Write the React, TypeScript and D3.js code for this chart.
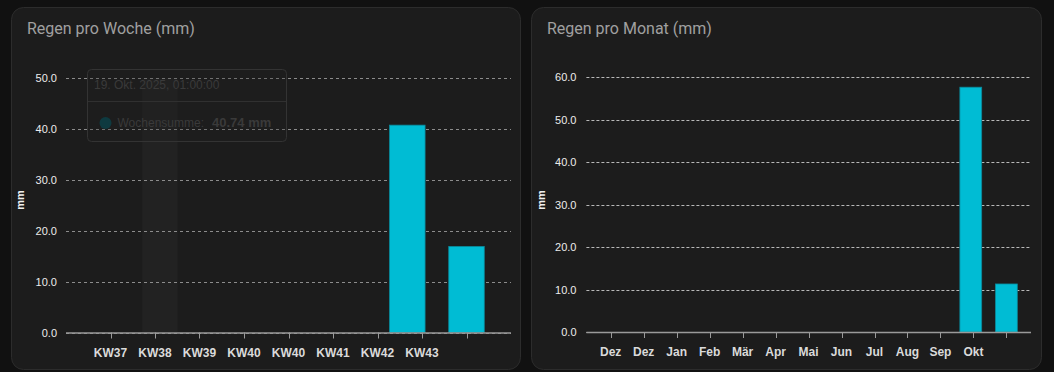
import { useEffect, useRef } from "react"
import * as d3 from "d3";

// weekly chart data
const weekLabels = ["KW37", "KW38", "KW39", "KW40", "KW40", "KW41", "KW42", "KW43", ""];
const weekBarPos = [6.67, 8];
const weekValues = [40.74, 16.9];
const weekTicksY = [0, 10, 20, 30, 40, 50];

// monthly chart data
const monthLabels = ["Dez", "Dez", "Jan", "Feb", "Mär", "Apr", "Mai", "Jun", "Jul", "Aug", "Sep", "Okt", ""];
const monthBarPos = [10.92, 12];
const monthValues = [57.6, 11.3];
const monthTicksY = [0, 10, 20, 30, 40, 50, 60];

const BAR = "#00bcd4";

function drawCard(svg, opts) {
  const {
    cardX, cardW, title, labels, barPos, values, yTicks, yMax,
    xDomain, plotLeft, plotRight, plotTop, plotBottom, barWidth,
    gridColor, gridDash, yLabelX, yTitleX, hover
  } = opts;

  svg.append("rect")
      .attr("x", cardX + 0.5).attr("y", 7.5)
      .attr("width", cardW).attr("height", 362)
      .attr("rx", 12)
      .attr("fill", "#1c1c1c")
      .attr("stroke", "#2c2c2c");

  svg.append("text")
      .attr("x", cardX + 16).attr("y", 33.5)
      .attr("fill", "#a0a0a0")
      .attr("font-family", "Roboto")
      .attr("font-size", 16)
      .text(title);

  const x = d3.scaleLinear(xDomain, [plotLeft, plotRight]);
  const y = d3.scaleLinear([0, yMax], [plotBottom, plotTop]);
  const band = x(1) - x(0);

  // hover shade column
  if (hover !== undefined) {
    svg.append("rect")
        .attr("x", x(hover) - band * 0.4)
        .attr("y", plotTop)
        .attr("width", band * 0.8)
        .attr("height", plotBottom - plotTop)
        .attr("fill", "#222222");
  }

  // grid
  svg.append("g")
      .selectAll("line")
      .data(yTicks)
      .join("line")
      .attr("x1", plotLeft).attr("x2", plotRight)
      .attr("y1", d => Math.round(y(d)) + 0.5).attr("y2", d => Math.round(y(d)) + 0.5)
      .attr("stroke", gridColor)
      .attr("stroke-dasharray", gridDash);

  // y labels
  svg.append("g")
      .selectAll("text")
      .data(yTicks)
      .join("text")
      .attr("x", yLabelX)
      .attr("y", d => y(d) + 4)
      .attr("text-anchor", "end")
      .attr("fill", "#ececec")
      .attr("font-family", "Liberation Sans, Arial")
      .attr("font-size", 11)
      .text(d => d.toFixed(1));

  svg.append("text")
      .attr("transform", `translate(${yTitleX},200) rotate(-90)`)
      .attr("text-anchor", "middle")
      .attr("fill", "#f0f0f0")
      .attr("font-family", "Liberation Sans, Arial")
      .attr("font-weight", "bold")
      .attr("font-size", 11)
      .text("mm");

  // bars
  svg.append("g")
      .selectAll("rect")
      .data(values)
      .join("rect")
      .attr("x", (d, i) => x(barPos[i]) - barWidth / 2)
      .attr("y", d => y(d))
      .attr("width", barWidth)
      .attr("height", d => plotBottom - y(d))
      .attr("fill", BAR)
      .attr("stroke", "#0a8a9c")
      .attr("stroke-width", 0.8);

  // x axis
  svg.append("line")
      .attr("x1", plotLeft).attr("x2", plotRight)
      .attr("y1", plotBottom + 0.5).attr("y2", plotBottom + 0.5)
      .attr("stroke", "#9a9a9a")
      .attr("stroke-width", 1.5);

  const ticks = d3.range(labels.length);
  svg.append("g")
      .selectAll("line")
      .data(ticks)
      .join("line")
      .attr("x1", d => Math.round(x(d)) + 0.5).attr("x2", d => Math.round(x(d)) + 0.5)
      .attr("y1", plotBottom).attr("y2", plotBottom + 6)
      .attr("stroke", "#9a9a9a");

  svg.append("g")
      .selectAll("text")
      .data(ticks)
      .join("text")
      .attr("x", d => x(d))
      .attr("y", plotBottom + 24)
      .attr("text-anchor", "middle")
      .attr("fill", "#dadada")
      .attr("font-family", "Liberation Sans, Arial")
      .attr("font-weight", 600)
      .attr("font-size", 12)
      .text(d => labels[d]);

  return { x, y };
}

export default function App() {
  const ref = useRef(null);

  useEffect(() => {
    const svg = d3.select(ref.current);
    svg.selectAll("*").remove();

    svg.append("rect").attr("width", 1054).attr("height", 372).attr("fill", "#111111");

    drawCard(svg, {
      cardX: 11, cardW: 509, title: "Regen pro Woche (mm)",
      labels: weekLabels, barPos: weekBarPos, values: weekValues,
      yTicks: weekTicksY, yMax: 50, xDomain: [-1, 9],
      plotLeft: 66, plotRight: 511, plotTop: 78, plotBottom: 332.5,
      barWidth: 35.5, gridColor: "#8c8c8c", gridDash: "3 3",
      yLabelX: 57, yTitleX: 24, hover: 1.11
    });

    drawCard(svg, {
      cardX: 531, cardW: 510, title: "Regen pro Monat (mm)",
      labels: monthLabels, barPos: monthBarPos, values: monthValues,
      yTicks: monthTicksY, yMax: 60, xDomain: [-0.737, 12.746],
      plotLeft: 586.4, plotRight: 1031, plotTop: 77, plotBottom: 332,
      barWidth: 21.8, gridColor: "#b8b8b8", gridDash: "3 2",
      yLabelX: 576.5, yTitleX: 545
    });

    // faded tooltip on weekly chart
    const tip = svg.append("g").attr("font-family", "Liberation Sans, Arial");
    tip.append("rect")
        .attr("x", 87.5).attr("y", 69.5).attr("width", 199).attr("height", 72)
        .attr("rx", 4)
        .attr("fill", "#1e1e1e").attr("fill-opacity", 0.25)
        .attr("stroke", "#333333");
    tip.append("line")
        .attr("x1", 88).attr("x2", 286).attr("y1", 101.5).attr("y2", 101.5)
        .attr("stroke", "#303030");
    tip.append("text")
        .attr("x", 94).attr("y", 89).attr("font-size", 12).attr("fill", "#3a3a3a")
        .text("19. Okt. 2025, 01:00:00");
    tip.append("circle")
        .attr("cx", 105.5).attr("cy", 123).attr("r", 6).attr("fill", "#0e3a40");
    tip.append("text")
        .attr("x", 117.5).attr("y", 126.5).attr("font-size", 12).attr("fill", "#3a3a3a")
        .text("Wochensumme:");
    tip.append("text")
        .attr("x", 212).attr("y", 126.5).attr("font-size", 13).attr("font-weight", "bold")
        .attr("fill", "#3a3a3a")
        .text(`${weekValues[0].toFixed(2)} mm`);
  }, []);

  return (
    <div style={{ position: "fixed", left: 0, top: 0 }}>
      <svg ref={ref} width={1054} height={372} style={{ display: "block" }} />
    </div>
  )
}
